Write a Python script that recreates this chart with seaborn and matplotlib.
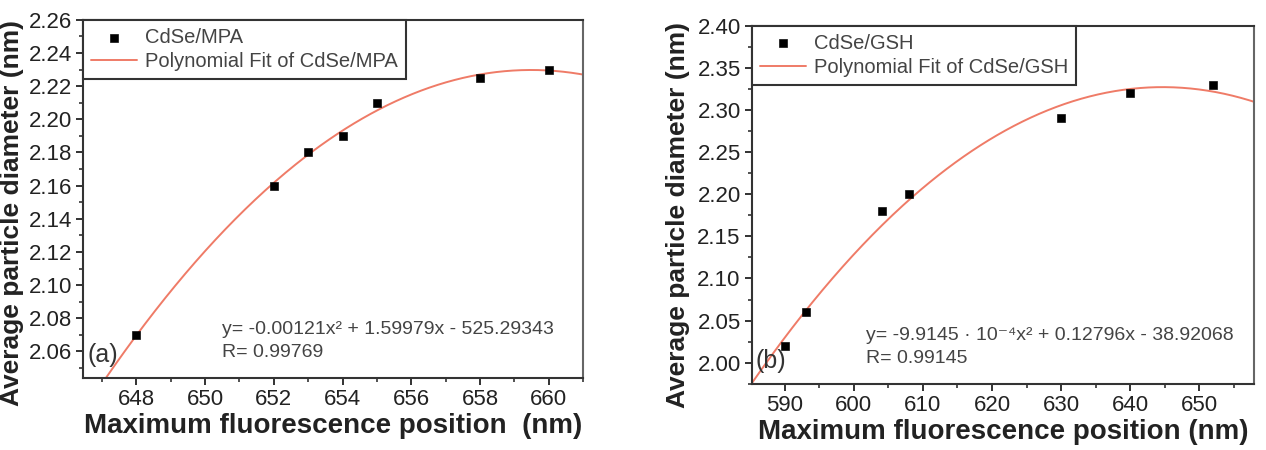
import numpy as np
import pandas as pd
import seaborn as sns
import matplotlib.pyplot as plt
from matplotlib.ticker import MultipleLocator

# data
mpa_pos = [648, 652, 653, 654, 655, 658, 660]
mpa_diam = [2.07, 2.16, 2.18, 2.19, 2.21, 2.225, 2.23]
gsh_pos = [590, 593, 604, 608, 630, 640, 652]
gsh_diam = [2.02, 2.06, 2.18, 2.20, 2.29, 2.32, 2.33]

mpa_eq = "y= -0.00121x\u00b2 + 1.59979x - 525.29343"
mpa_r = "R= 0.99769"
gsh_eq = "y= -9.9145 \u00b7 10\u207b\u2074x\u00b2 + 0.12796x - 38.92068"
gsh_r = "R= 0.99145"

sns.set_style("ticks")
plt.rcParams['font.family'] = ['Liberation Sans', 'DejaVu Sans']

fit_color = '#ef7b67'

fig = plt.figure(figsize=(12.66, 4.5), dpi=100)
ax_a = fig.add_axes([0.0656, 0.160, 0.395, 0.796])
ax_b = fig.add_axes([0.5938, 0.147, 0.397, 0.796])

panels = [
    (ax_a, mpa_pos, mpa_diam, "CdSe/MPA", (646.45, 661.0), (2.044, 2.26), 2, 0.02,
     mpa_eq, mpa_r, 0.278, "(a)", "Maximum fluorescence position  (nm)"),
    (ax_b, gsh_pos, gsh_diam, "CdSe/GSH", (585.2, 658.0), (1.975, 2.40), 10, 0.05,
     gsh_eq, gsh_r, 0.228, "(b)", "Maximum fluorescence position (nm)"),
]

for ax, xs, ys, name, xlim, ylim, xstep, ystep, eq, rtxt, eq_x, tag, xlab in panels:
    df = pd.DataFrame({'pos': xs, 'diam': ys})
    # quadratic fit of the points
    coef = np.polyfit(xs, ys, 2)
    xf = np.linspace(xlim[0], xlim[1], 300)
    fit = pd.DataFrame({'pos': xf, 'diam': np.polyval(coef, xf)})

    sns.lineplot(data=fit, x='pos', y='diam', ax=ax, color=fit_color, lw=1.4,
                 label="Polynomial Fit of " + name, zorder=2)
    sns.scatterplot(data=df, x='pos', y='diam', ax=ax, marker='s', s=30,
                    color='black', edgecolor='black', label=name, zorder=3)

    ax.set_xlim(*xlim)
    ax.set_ylim(*ylim)
    ax.xaxis.set_major_locator(MultipleLocator(xstep))
    ax.xaxis.set_minor_locator(MultipleLocator(xstep / 2))
    ax.yaxis.set_major_locator(MultipleLocator(ystep))
    ax.yaxis.set_minor_locator(MultipleLocator(ystep / 2))
    ax.yaxis.set_major_formatter(plt.FormatStrFormatter('%.2f'))
    ax.tick_params(which='major', direction='out', length=5, width=1.3,
                   labelsize=16, colors='#222222', pad=3)
    ax.tick_params(which='minor', direction='out', length=3, width=1.1,
                   colors='#222222')
    for side, sp in ax.spines.items():
        sp.set_visible(True)
        sp.set_linewidth(1.5)
        sp.set_color('#333333' if side in ('left', 'bottom', 'top') else '#666666')

    ax.set_xlabel(xlab, fontsize=20, fontweight='bold', color='#222222',
                  labelpad=2)
    ax.set_ylabel("Average particle diameter (nm)", fontsize=19,
                  fontweight='bold', color='#222222')

    # scatter entry first, fit line second
    handles, labels = ax.get_legend_handles_labels()
    leg = ax.legend(handles[::-1], labels[::-1], loc='upper left',
                    bbox_to_anchor=(0, 1), borderaxespad=0, fancybox=False,
                    framealpha=1, edgecolor='#333333', fontsize=14.5,
                    handlelength=2.3, handletextpad=0.4, borderpad=0.4,
                    labelspacing=0.25, labelcolor='#444444')
    leg.get_frame().set_linewidth(1.5)

    ax.text(0.008, 0.065, tag, transform=ax.transAxes, fontsize=18,
            color='#333333', ha='left', va='center')
    ax.text(eq_x, 0.135, eq, transform=ax.transAxes, fontsize=14,
            color='#444444', ha='left', va='center')
    ax.text(eq_x, 0.072, rtxt, transform=ax.transAxes, fontsize=14,
            color='#444444', ha='left', va='center')

ax_a.yaxis.set_label_coords(-0.118, 0.46)
ax_b.yaxis.set_label_coords(-0.123, 0.47)

fig.savefig("out.png", dpi=100)
